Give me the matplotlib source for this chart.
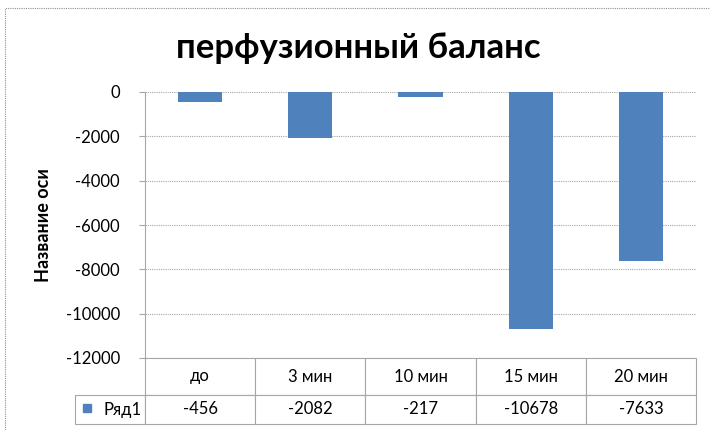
import matplotlib.pyplot as plt
from matplotlib.table import Table
from matplotlib.patches import Rectangle

# данные: перфузионный баланс по времени
categories = ["до", "3 мин", "10 мин", "15 мин", "20 мин"]
values = [-456, -2082, -217, -10678, -7633]
series_name = "Ряд1"
yticks = [0, -2000, -4000, -6000, -8000, -10000, -12000]

bar_color = "#4F81BD"
grid_color = "#A6A6A6"
plt.rcParams["font.family"] = ["Lato", "DejaVu Sans"]

fig = plt.figure(figsize=(7.1, 4.3), dpi=100)
W, H = 710, 430
left, right, top, bottom = 145, 696, 92, 358
ax = fig.add_axes([left / W, 1 - bottom / H, (right - left) / W, (bottom - top) / H])

x = list(range(len(categories)))
ax.bar(x, values, width=0.4, color=bar_color, zorder=3)
ax.set_xlim(-0.5, len(categories) - 0.5)
ax.set_ylim(-12000, 0)
ax.set_yticks(yticks)
ax.set_yticklabels([str(v) for v in yticks], fontsize=12)
ax.set_xticks([])
ax.yaxis.grid(True, color=grid_color, linewidth=0.8, linestyle=(0, (1, 1)), zorder=0)
for s in ["top", "right", "bottom"]:
    ax.spines[s].set_visible(False)
ax.spines["left"].set_color(grid_color)
ax.tick_params(axis="y", length=4, color=grid_color, pad=14)
ax.set_ylabel("Название оси", fontsize=13, fontweight="bold", labelpad=10)

fig.text(0.505, 1 - 48 / H, "перфузионный баланс", fontsize=25, fontweight="bold",
         ha="center", va="center")

# таблица данных под графиком
row_lbl_w = 70 / 110.2
hdr_h, row_h = 37, 29
tbl = Table(ax, bbox=[-(left - 75) / (right - left), -(hdr_h + row_h) / (bottom - top),
                      1 + (left - 75) / (right - left), (hdr_h + row_h) / (bottom - top)])
for j, cat in enumerate(categories):
    c = tbl.add_cell(0, j + 1, width=1, height=hdr_h, text=cat, loc="center")
    c.set_edgecolor(grid_color)
    c.set_linewidth(0.8)
    c.get_text().set_fontsize(12)
    c = tbl.add_cell(1, j + 1, width=1, height=row_h, text=str(values[j]), loc="center")
    c.set_edgecolor(grid_color)
    c.set_linewidth(0.8)
    c.get_text().set_fontsize(12)
c = tbl.add_cell(1, 0, width=row_lbl_w, height=row_h, text=series_name, loc="right")
c.set_edgecolor(grid_color)
c.set_linewidth(0.8)
c.get_text().set_fontsize(12)
c.PAD = 0.05
tbl.auto_set_font_size(False)
ax.add_table(tbl)

# маркер ряда в ячейке подписи
fig.patches.append(Rectangle((83 / W, 1 - 412 / H), 8 / W, 8 / H,
                             transform=fig.transFigure, color=bar_color))

# рамка области диаграммы
fig.patches.append(Rectangle((5 / W, -0.05), 1.1, 1 - 8 / H + 0.05, transform=fig.transFigure,
                             fill=False, edgecolor="#909090", linewidth=0.8,
                             linestyle=(0, (1, 1))))

fig.savefig("out.png", dpi=100)
